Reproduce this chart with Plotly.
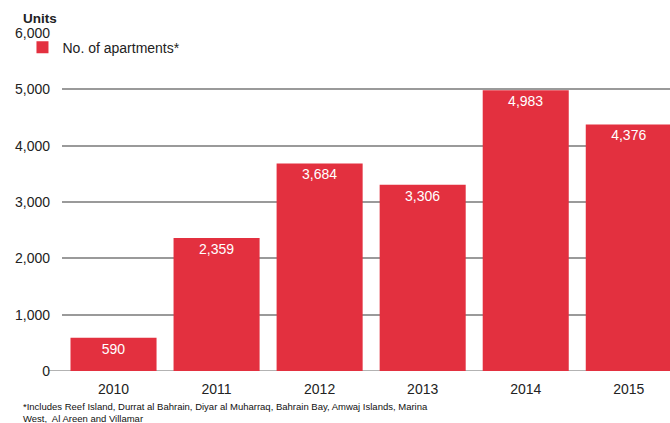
import plotly.graph_objects as go

years = ["2010", "2011", "2012", "2013", "2014", "2015"]
apartments = [590, 2359, 3684, 3306, 4983, 4376]
labels = [f"{v:,}" for v in apartments]

BAR = "#E3303F"
FONT = "Liberation Sans, Arial, sans-serif"

fig = go.Figure()
fig.add_trace(go.Bar(
    x=years, y=apartments, name="No. of apartments*",
    marker=dict(color=BAR, line=dict(width=0)),
    text=labels, textposition="inside", insidetextanchor="end",
    textfont=dict(color="white", size=14, family=FONT),
    textangle=0, cliponaxis=False,
))

fig.update_layout(
    width=670, height=423,
    margin=dict(l=62, r=0, t=33, b=52),
    paper_bgcolor="white", plot_bgcolor="white",
    font=dict(family=FONT, size=14, color="#222"),
    bargap=0.165,
    showlegend=True,
    legend=dict(x=-0.065, y=1.004, xanchor="left", yanchor="top",
                font=dict(size=14, color="#222"), bgcolor="rgba(0,0,0,0)",
                itemwidth=30, traceorder="normal"),
    xaxis=dict(range=[-0.5, 5.40], showgrid=False, showline=False,
               ticks="", tickfont=dict(size=14, color="#222"), ticklabelstandoff=8),
    yaxis=dict(range=[0, 6000], tickvals=[0, 1000, 2000, 3000, 4000, 5000, 6000],
               tickformat=",d", showgrid=True, gridcolor="#9a9a9a", gridwidth=1.5,
               zeroline=False, showline=False, ticks="",
               tickfont=dict(size=14, color="#222"), ticklabelstandoff=11),
    uniformtext=dict(minsize=14, mode="show"),
)

# baseline extends past the plot area toward the tick labels
fig.add_shape(type="line", xref="paper", yref="y", x0=-0.023, x1=1, y0=0, y1=0,
              line=dict(color="#9a9a9a", width=1.5), layer="below")

fig.add_annotation(text="<b>Units</b>", xref="paper", yref="paper",
                   x=-0.067, y=1.0, xanchor="left", yanchor="bottom", yshift=5,
                   showarrow=False, font=dict(size=13.5, color="#222"))

fig.add_annotation(
    text="*Includes Reef Island, Durrat al Bahrain, Diyar al Muharraq, Bahrain Bay, Amwaj Islands, Marina<br>West,  Al Areen and Villamar",
    xref="paper", yref="paper", x=-0.068, y=0, yshift=-28, xanchor="left", yanchor="top",
    align="left", showarrow=False, font=dict(size=9.5, color="#111"))

fig.write_html("out.html")
